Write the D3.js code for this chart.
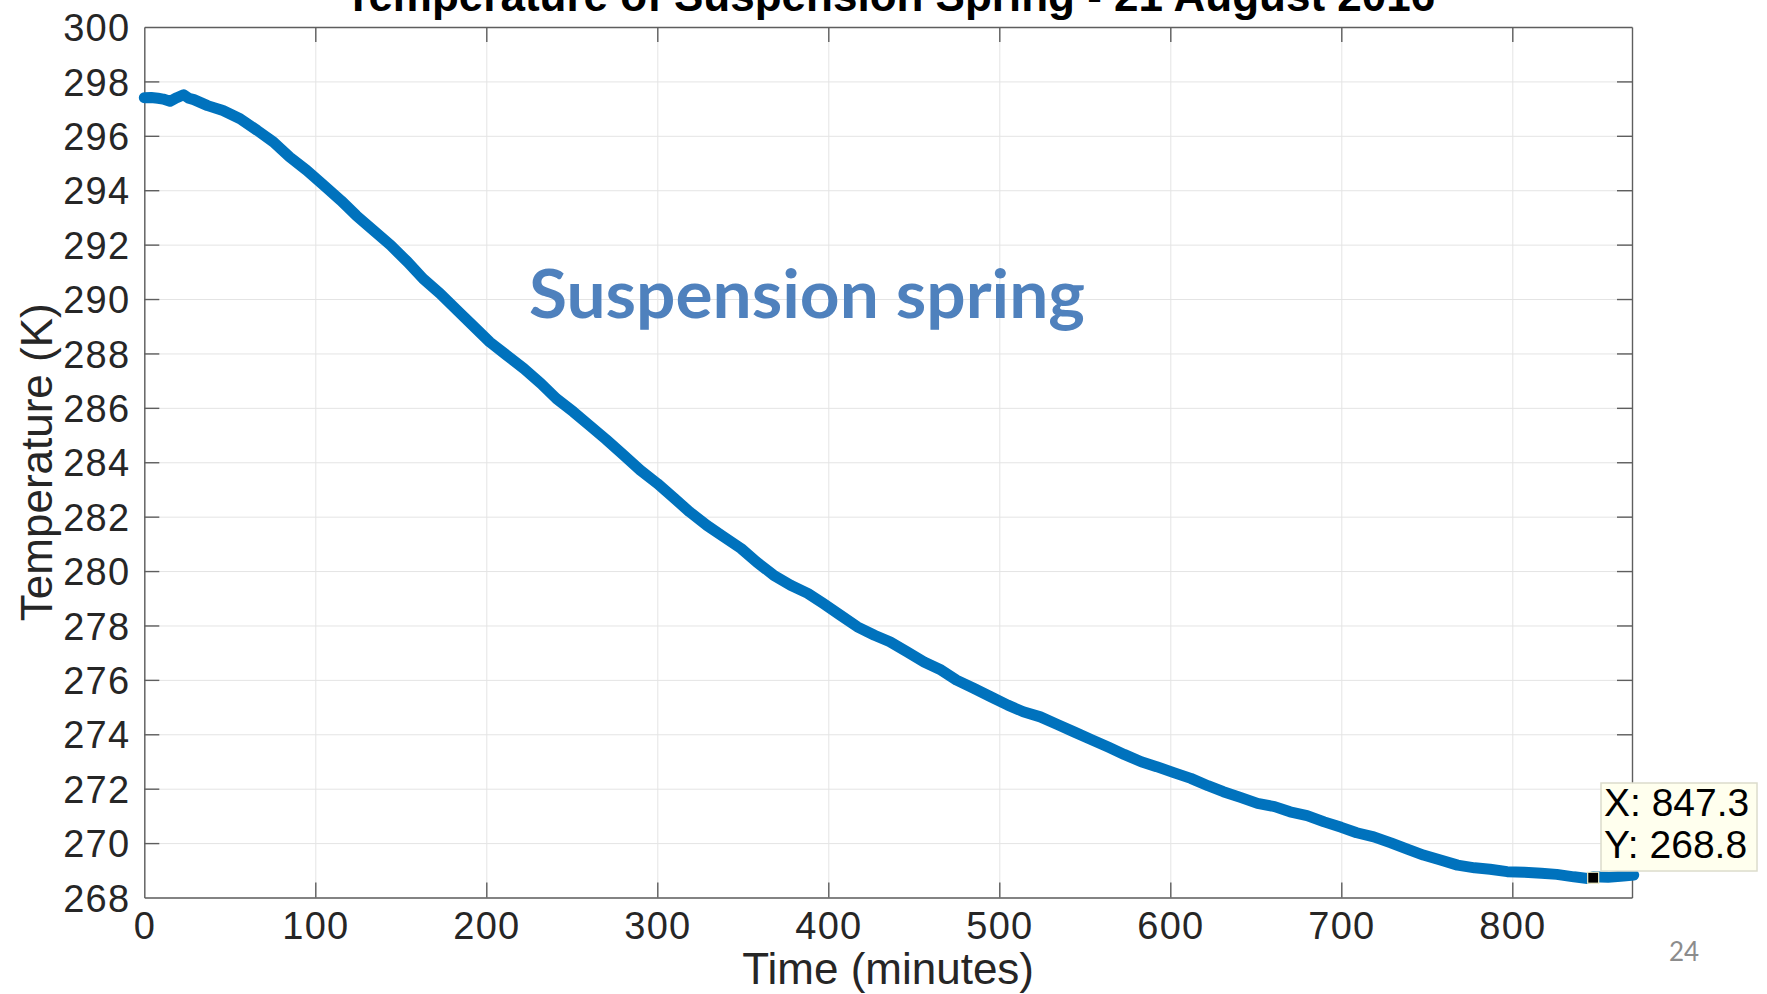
<!DOCTYPE html>
<html>
<head>
<meta charset="utf-8">
<script src="https://cdn.jsdelivr.net/npm/d3@7"></script>
<style>
  html, body { margin: 0; padding: 0; background: #ffffff; }
  svg { display: block; }
</style>
</head>
<body>
<svg id="chart" width="1767" height="994"></svg>
<script>
// ---- data ----
const timeMinutes = [0, 4, 8, 11, 15, 19, 23, 26, 29, 33, 37, 46, 56, 66, 75.5, 85, 95, 105, 115, 124, 134, 144, 154, 163, 173, 183, 193, 202, 212, 222, 232, 241, 251, 261, 270, 280, 290, 300, 310, 319, 329, 339, 349, 358, 368, 378, 388, 397, 407, 417, 427, 436, 446, 456, 466, 475, 485, 495, 505, 514, 524, 534, 544, 554, 564, 573, 583, 592, 602, 612, 622, 631, 641, 651, 661, 670, 680, 690, 700, 709, 719, 729, 739, 748, 758, 768, 778, 787, 797, 807, 817, 826, 836, 844, 847.3, 856, 865, 871];
const temperatureK = [297.40, 297.41, 297.38, 297.35, 297.27, 297.40, 297.51, 297.38, 297.33, 297.22, 297.11, 296.93, 296.63, 296.20, 295.77, 295.22, 294.73, 294.18, 293.62, 293.07, 292.52, 291.98, 291.36, 290.75, 290.20, 289.58, 288.97, 288.42, 287.93, 287.44, 286.89, 286.34, 285.85, 285.32, 284.84, 284.28, 283.71, 283.22, 282.67, 282.17, 281.68, 281.25, 280.83, 280.34, 279.85, 279.48, 279.18, 278.81, 278.38, 277.95, 277.64, 277.40, 277.03, 276.66, 276.36, 275.99, 275.69, 275.38, 275.07, 274.83, 274.64, 274.36, 274.08, 273.80, 273.52, 273.26, 272.99, 272.81, 272.59, 272.38, 272.11, 271.89, 271.68, 271.46, 271.34, 271.15, 271.01, 270.78, 270.58, 270.38, 270.23, 270.01, 269.77, 269.56, 269.38, 269.19, 269.09, 269.04, 268.95, 268.93, 268.89, 268.85, 268.76, 268.70, 268.76, 268.74, 268.79, 268.83];
const xTickValues = [0, 100, 200, 300, 400, 500, 600, 700, 800];
const yTickValues = [268, 270, 272, 274, 276, 278, 280, 282, 284, 286, 288, 290, 292, 294, 296, 298, 300];
const xDomain = [0, 870];
const yDomain = [268, 300];
const tipX = 847.3;
const tipY = 268.8;
const titleText = "Temperature of Suspension Spring - 21 August 2016";
const xLabelText = "Time (minutes)";
const yLabelText = "Temperature (K)";
const annotationText = "Suspension spring";
const pageNumber = "24";

// ---- layout ----
const svg = d3.select("#chart");
const pLeft = 144.3, pRight = 1632, pTop = 27, pBottom = 897.5;
const W = pRight - pLeft, H = pBottom - pTop;

const x = d3.scaleLinear().domain(xDomain).range([pLeft, pRight]);
const y = d3.scaleLinear().domain(yDomain).range([pBottom, pTop]);

const tickColor = "#262626";
const axisColor = "#5e5e5e";
const gridColor = "#e4e4e4";
const tickFont = "'Liberation Sans', Arial, Helvetica, sans-serif";

// grid
const gridX = svg.append("g").attr("transform", `translate(0,${pBottom})`)
  .call(d3.axisBottom(x).tickValues(xTickValues).tickSize(-H).tickFormat(""));
gridX.select(".domain").remove();
gridX.selectAll("line").attr("stroke", gridColor).attr("stroke-width", 1);

const gridY = svg.append("g").attr("transform", `translate(${pLeft},0)`)
  .call(d3.axisLeft(y).tickValues(yTickValues).tickSize(-W).tickFormat(""));
gridY.select(".domain").remove();
gridY.selectAll("line").attr("stroke", gridColor).attr("stroke-width", 1);

// axes (box with inward ticks on all sides)
function styleAxis(g) {
  g.select(".domain").attr("stroke", axisColor).attr("stroke-width", 1.4);
  g.selectAll(".tick line").attr("stroke", axisColor).attr("stroke-width", 1.4);
  g.selectAll("text").attr("fill", tickColor).style("font-family", tickFont)
    .style("font-size", "38px").style("letter-spacing", "1.2px");
}
const tickLen = 15;
const axB = svg.append("g").attr("transform", `translate(0,${pBottom})`)
  .call(d3.axisBottom(x).tickValues(xTickValues).tickSizeInner(-tickLen).tickSizeOuter(0).tickPadding(15).tickFormat(d3.format("d")));
styleAxis(axB);
const axT = svg.append("g").attr("transform", `translate(0,${pTop})`)
  .call(d3.axisTop(x).tickValues(xTickValues).tickSizeInner(-tickLen).tickSizeOuter(0).tickFormat(""));
styleAxis(axT);
const axL = svg.append("g").attr("transform", `translate(${pLeft},0)`)
  .call(d3.axisLeft(y).tickValues(yTickValues).tickSizeInner(-tickLen).tickSizeOuter(0).tickPadding(14).tickFormat(d3.format("d")));
styleAxis(axL);
const axR = svg.append("g").attr("transform", `translate(${pRight},0)`)
  .call(d3.axisRight(y).tickValues(yTickValues).tickSizeInner(-tickLen).tickSizeOuter(0).tickFormat(""));
styleAxis(axR);
// remove tick marks at the box corners (they coincide with the edges)
[axB, axT].forEach(g => g.selectAll(".tick").filter(d => d === xDomain[0]).select("line").remove());
[axL, axR].forEach(g => g.selectAll(".tick").filter(d => d === yDomain[0] || d === yDomain[1]).select("line").remove());
axL.selectAll(".tick text").attr("dy", "0.36em");

// data line
const pts = timeMinutes.map((t, i) => [t, temperatureK[i]]);
svg.append("path")
  .datum(pts)
  .attr("fill", "none")
  .attr("stroke", "#0072BD")
  .attr("stroke-width", 11)
  .attr("stroke-linejoin", "round")
  .attr("stroke-linecap", "round")
  .attr("d", d3.line().x(d => x(d[0])).y(d => y(d[1])));

// title (cut off at the top edge, as in the reference)
svg.append("text")
  .attr("x", 890).attr("y", 11)
  .attr("text-anchor", "middle")
  .style("font-family", tickFont).style("font-weight", "bold").style("font-size", "44px")
  .attr("fill", "#000")
  .text(titleText);

// axis labels
svg.append("text")
  .attr("x", (pLeft + pRight) / 2).attr("y", 984)
  .attr("text-anchor", "middle")
  .style("font-family", tickFont).style("font-size", "44px")
  .attr("fill", tickColor)
  .text(xLabelText);
svg.append("text")
  .attr("transform", `translate(52,${(pTop + pBottom) / 2}) rotate(-90)`)
  .attr("text-anchor", "middle")
  .style("font-family", tickFont).style("font-size", "44px")
  .attr("fill", tickColor)
  .text(yLabelText);

// annotation
svg.append("text")
  .attr("x", 529).attr("y", 318)
  .attr("textLength", 556).attr("lengthAdjust", "spacingAndGlyphs")
  .style("font-family", "Lato, 'Open Sans', sans-serif").style("font-weight", "bold").style("font-size", "66px")
  .attr("fill", "#4F81BD")
  .text(annotationText);

// data tip
const mx = x(tipX), my = y(tipY);
const tip = svg.append("g");
tip.append("rect")
  .attr("x", 1601).attr("y", 783).attr("width", 156).attr("height", 88)
  .attr("fill", "#FFFFEE").attr("stroke", "#dcdccc").attr("stroke-width", 1.5);
tip.append("text").attr("x", 1604).attr("y", 815.5)
  .style("font-family", tickFont).style("font-size", "39px").attr("fill", "#000")
  .text("X: " + tipX.toFixed(1));
tip.append("text").attr("x", 1604).attr("y", 858)
  .style("font-family", tickFont).style("font-size", "39px").attr("fill", "#000")
  .text("Y: " + tipY.toFixed(1));
svg.append("rect")
  .attr("x", mx - 5.5).attr("y", my - 5.5 + 2).attr("width", 11).attr("height", 11)
  .attr("fill", "#000").attr("stroke", "#f2f0c8").attr("stroke-width", 1.2);

// page number
svg.append("text")
  .attr("x", 1684).attr("y", 961)
  .attr("text-anchor", "middle")
  .style("font-family", "Lato, 'Open Sans', sans-serif").style("font-size", "26px")
  .attr("fill", "#8c8c8c")
  .text(pageNumber);
</script>
</body>
</html>
